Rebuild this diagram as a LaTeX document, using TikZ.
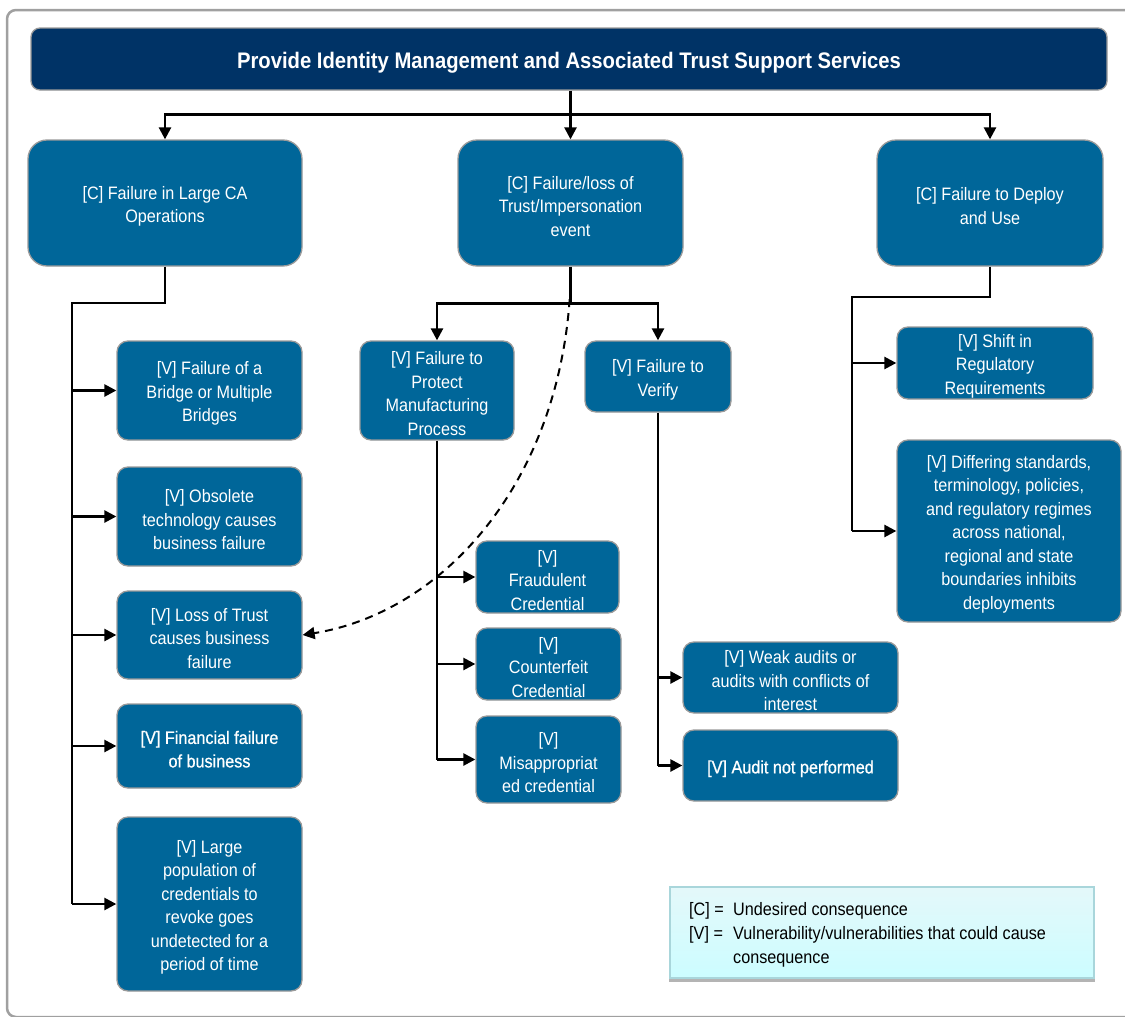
\documentclass[tikz,border=0pt]{standalone}
\usepackage{fontspec}
\setmainfont{Liberation Sans}[FakeStretch=0.9]
\newfontfamily\boldishfont{Liberation Sans}[FakeStretch=0.9,FakeBold=0.7]
\usetikzlibrary{arrows.meta,calc}
\newcommand\boxstrut{\rule{0pt}{19.5pt}}
\definecolor{navy}{HTML}{003366}
\definecolor{boxblue}{HTML}{006699}
\definecolor{framegray}{HTML}{A0A0A0}
\definecolor{boxedge}{HTML}{9A9A9A}
\definecolor{legtop}{HTML}{E4F8FA}
\definecolor{legbot}{HTML}{CCFDFF}
\definecolor{legedge}{HTML}{A9D6DB}
\definecolor{shadowgray}{HTML}{B4B4B4}
\tikzset{
  boxtext/.style={font=\fontsize{18}{23.5}\selectfont, text=white, align=center},
  cbox/.style={draw=boxedge, line width=1.3pt, fill=boxblue, rounded corners=19pt, inner sep=0pt, boxtext},
  vbox/.style={draw=boxedge, line width=1.3pt, fill=boxblue, rounded corners=11pt, inner sep=0pt, boxtext},
  titlebox/.style={draw=boxedge, line width=1.3pt, fill=navy, rounded corners=9pt, inner sep=0pt, text=white,
     font=\bfseries\fontsize{22.5}{27}\selectfont, execute at begin node={\rule{0pt}{24pt}}},
  ln/.style={line width=2.5pt, draw=black},
  arr/.style={ln, -{Triangle[length=12pt,width=12pt]}},
  dasharr/.style={line width=2pt, draw=black, dash pattern=on 8pt off 6pt, -{Triangle[length=12pt,width=12pt]}},
  legbox/.style={draw=legedge, line width=1.2pt, top color=legtop, bottom color=legbot, inner sep=0pt},
  shadowline/.style={draw=shadowgray, line width=3pt},
  frame/.style={draw=framegray, line width=2.5pt, rounded corners=9pt}
}
\begin{document}
\begin{tikzpicture}[x=1pt,y=-1pt]
\clip (0,0) rectangle (1125,1017);
\fill[white] (0,0) rectangle (1125,1017);
\draw[frame] (7,10) rectangle (1140,1017);

% title
\node[titlebox, minimum width=1076pt, minimum height=62pt] (title) at (569,59)
  {Provide Identity Management and Associated Trust Support Services};

% consequence boxes
\node[cbox, minimum width=274pt, minimum height=126pt] (c1) at (165,203)
  {\boxstrut[C] Failure in Large CA\\Operations};
\node[cbox, minimum width=225pt, minimum height=126pt] (c2) at (570.5,203)
  {\boxstrut[C] Failure/loss of\\Trust/Impersonation\\event};
\node[cbox, minimum width=226pt, minimum height=126pt] (c3) at (990,203)
  {\boxstrut[C] Failure to Deploy\\and Use};

% left column
\node[vbox, minimum width=185pt, minimum height=99pt] (v1) at (209.5,390.5)
  {\boxstrut[V] Failure of a\\Bridge or Multiple\\Bridges};
\node[vbox, minimum width=185pt, minimum height=99pt] (v2) at (209.5,516.5)
  {\boxstrut[V] Obsolete\\technology causes\\business failure};
\node[vbox, minimum width=185pt, minimum height=88pt] (v3) at (209.5,635)
  {\boxstrut[V] Loss of Trust\\causes business\\failure};
\node[vbox, minimum width=185pt, minimum height=84pt, font=\boldishfont\fontsize{18}{23.5}\selectfont] (v4) at (209.5,746)
  {\boxstrut[V] Financial failure\\of business};
\node[vbox, minimum width=185pt, minimum height=174pt] (v5) at (209.5,904)
  {\boxstrut[V] Large\\population of\\credentials to\\revoke goes\\undetected for a\\period of time};

% middle column
\node[vbox, minimum width=154pt, minimum height=99pt] (vp) at (437,390.5)
  {\boxstrut[V] Failure to\\Protect\\Manufacturing\\Process};
\node[vbox, minimum width=146pt, minimum height=71pt] (vv) at (658,376.5)
  {\boxstrut[V] Failure to\\Verify};
\node[vbox, minimum width=143pt, minimum height=72pt] (vf) at (547.5,577)
  {\boxstrut[V]\\Fraudulent\\Credential};
\node[vbox, minimum width=145pt, minimum height=72pt] (vc) at (548.5,664)
  {\boxstrut[V]\\Counterfeit\\Credential};
\node[vbox, minimum width=145pt, minimum height=87pt] (vm) at (548.5,759.5)
  {\boxstrut[V]\\Misappropriat\\ed credential};
\node[vbox, minimum width=215pt, minimum height=71pt] (vw) at (790.5,677.5)
  {\boxstrut[V] Weak audits or\\audits with conflicts of\\interest};
\node[vbox, minimum width=215pt, minimum height=71pt, font=\boldishfont\fontsize{18}{23.5}\selectfont] (va) at (790.5,765.5)
  {\boxstrut[V] Audit not performed};

% right column
\node[vbox, minimum width=196pt, minimum height=72pt] (vs) at (995,363)
  {\boxstrut[V] Shift in\\Regulatory\\Requirements};
\node[vbox, minimum width=224pt, minimum height=182pt] (vd) at (1009,531)
  {\boxstrut[V] Differing standards,\\terminology, policies,\\and regulatory regimes\\across national,\\regional and state\\boundaries inhibits\\deployments};

% top connectors
\coordinate (bus) at ($(c2.north)+(0,-25)$);
\draw[arr] (c2.north |- title.south) -- (c2.north);
\draw[arr] (bus) -| (c1.north);
\draw[arr] (bus) -| (c3.north);

% left tree
\coordinate (t1) at (72,303);
\draw[ln] (c1.south) |- (t1) -- (t1 |- v5.west);
\foreach \n in {v1,v2,v3,v4,v5} \draw[arr] (t1 |- \n.west) -- (\n.west);

% middle tree
\coordinate (t2) at ($(c2.south)+(0,37)$);
\draw[ln] (c2.south) -- (t2);
\draw[arr] (t2) -| (vp.north);
\draw[arr] (t2) -| (vv.north);
\draw[ln] (vp.south) -- (vp.south |- vm.west);
\foreach \n in {vf,vc,vm} \draw[arr] (vp.south |- \n.west) -- (\n.west);
\draw[ln] (vv.south) -- (vv.south |- va.west);
\foreach \n in {vw,va} \draw[arr] (vv.south |- \n.west) -- (\n.west);

% right tree
\coordinate (t3) at (852,297);
\draw[ln] (c3.south) |- (t3) -- (t3 |- vd.west);
\foreach \n in {vs,vd} \draw[arr] (t3 |- \n.west) -- (\n.west);

% dashed link
\coordinate (ds) at ($(c2.south)!0.5!(t2)$);
\draw[dasharr] (ds) .. controls (562,480) and (445,612) .. (v3.east);

% legend
\node[legbox, minimum width=424pt, minimum height=91pt] (leg) at (882,932.5) {};
\draw[shadowline] ([yshift=-1.5pt]leg.south west) -- ([yshift=-1.5pt]leg.south east);
\node[anchor=north west, inner sep=0pt, font=\fontsize{18}{24}\selectfont, text=black] (legtext) at (689,898)
  {\begin{tabular}{@{}p{44pt}@{}l@{}}
   {[C] =} & Undesired consequence\\
   {[V] =} & Vulnerability/vulnerabilities that could cause\\
   & consequence
   \end{tabular}};
\end{tikzpicture}
\end{document}
